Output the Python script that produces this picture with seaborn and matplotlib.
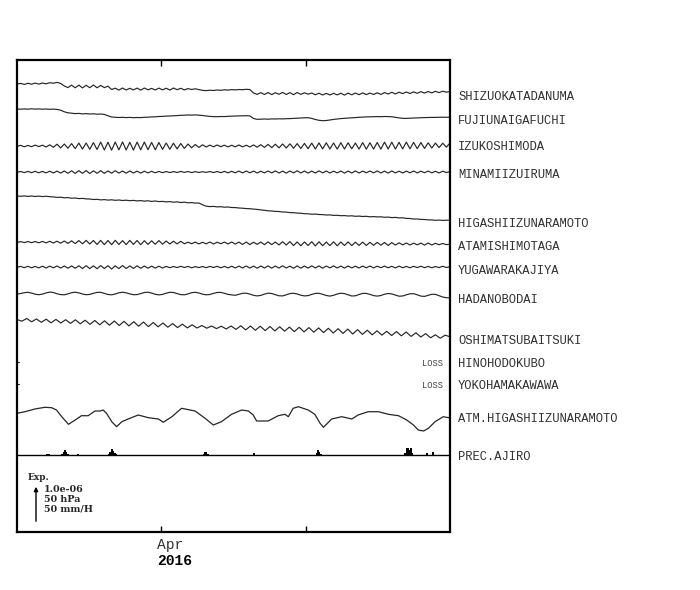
import numpy as np
import matplotlib
matplotlib.use("Agg")
import matplotlib.pyplot as plt
import seaborn as sns

# station names, top to bottom
stations = ["SHIZUOKATADANUMA", "FUJIUNAIGAFUCHI", "IZUKOSHIMODA", "MINAMIIZUIRUMA",
            "HIGASHIIZUNARAMOTO", "ATAMISHIMOTAGA", "YUGAWARAKAJIYA", "HADANOBODAI",
            "OSHIMATSUBAITSUKI", "HINOHODOKUBO", "YOKOHAMAKAWAWA",
            "ATM.HIGASHIIZUNARAMOTO", "PREC.AJIRO"]
loss_stations = ["HINOHODOKUBO", "YOKOHAMAKAWAWA"]

# strain traces, deviation from first level (scale: 37 units = 1.0e-06, downward positive)
shizuoka = [0.0, -0.6, 0.4, -0.7, 0.2, -0.9, 0.1, -1.0, -0.2, -1.3,
            -0.8, -1.6, -0.6,
            2.0, 3.6, 1.2, 3.8, 1.1, 3.9, 1.3, 3.7, 1.0, 3.8, 1.4, 3.6, 2.2,
            5.5, 4.2, 6.1, 4.0, 6.0, 4.3, 5.9, 4.1, 6.2, 4.0, 5.8, 4.4, 6.0, 4.1, 5.9, 4.2, 6.1,
            4.0, 5.7, 4.3, 5.9, 4.6, 5.5, 4.8, 5.6,
            6.4, 6.6, 6.2, 6.5, 6.0, 6.3, 5.8, 6.1, 5.6, 5.9, 5.5, 5.7, 5.3, 5.6,
            9.0, 10.4, 8.6, 10.5, 8.5, 10.6, 8.7, 10.3, 8.4, 10.5, 8.6, 10.7, 8.5, 10.4, 8.8,
            10.2, 9.0, 10.8, 9.2, 11.0, 9.4, 11.0, 9.3, 10.9, 9.2, 11.1, 9.1, 10.8, 9.0, 10.7,
            8.9, 10.6, 9.0, 10.5, 8.8, 10.4,
            8.6, 10.0, 8.3, 9.9, 8.2, 9.6, 8.0, 9.5, 7.9, 9.3, 7.6, 9.1, 7.5, 8.9, 7.3, 8.6,
            7.2, 8.2, 7.4]
fujiunaigafuchi = [0.0, 0.2, -0.1, 0.2, -0.2, 0.1, -0.1, 0.2, 0.0, 0.3, 0.1, 0.4,
                   1.2, 2.8, 3.8,
                   4.2, 4.6, 4.4, 4.9, 4.6, 5.0, 4.8, 5.2, 5.0, 5.4,
                   6.8, 8.0, 8.3,
                   8.5, 8.3, 8.6, 8.4, 8.7, 8.5, 8.6, 8.3, 8.2, 7.9, 7.8, 7.5, 7.4, 7.1, 7.0, 6.8,
                   6.6, 6.3,
                   6.2, 6.0, 6.1, 5.9, 6.2, 6.5, 7.0, 7.4, 7.6,
                   7.7, 7.5, 7.6, 7.3, 7.2, 7.0, 6.9, 6.8, 6.7, 6.9,
                   9.5, 10.3,
                   10.2, 10.0, 10.2, 9.9, 10.0, 9.8, 9.9, 9.7, 9.6, 9.4, 9.2, 9.0, 8.8, 8.7,
                   9.4, 10.5, 11.3, 11.7, 11.5, 11.0, 10.4, 10.0, 9.6, 9.3,
                   9.1, 8.8, 8.6, 8.3, 8.1, 7.9, 7.8, 7.7, 7.6, 7.7, 7.5, 7.6, 7.8, 8.3, 8.9,
                   9.3, 9.4, 9.2, 9.0, 8.9, 8.7, 8.6, 8.5, 8.4, 8.4, 8.3, 8.2, 8.3, 8.2]
izukoshimoda = [0.5, -0.7, 0.8, -0.6, 0.7, -0.9, 0.6, -0.8, 1.0, -1.2, 1.3,
                -1.8, 1.9, -2.0, 2.2, -2.4, 2.6,
                -2.9, 3.1, -3.0, 3.3, -3.4, 3.5,
                -3.9, 4.0, -3.8, 4.2, -4.0, 3.9, -4.1, 4.0, -3.7, 4.1, -3.9, 3.8, -4.0, 3.7,
                -3.6, 3.8, -3.5, 3.4,
                -3.0, 3.2, -2.8, 2.9, -2.5, 2.4, -2.0,
                1.8, -1.5, 1.4, -1.2, 1.0,
                -0.9, 0.8, -1.0, 0.7, -0.8, 0.9, -0.7, 0.8, -1.0, 0.9, -0.8, 1.0, -1.1, 1.2,
                -1.3, 1.4,
                -1.6, 1.7, -1.8, 1.9, -2.0, 2.0, -2.2, 2.3, -2.4, 2.5, -2.6, 2.7,
                -2.9, 3.0, -3.1, 2.9, -3.2, 3.0, -3.0, 3.1, -3.3, 3.0, -3.2, 2.8, -3.0, 3.1,
                -3.4, 3.2, -3.3, 3.1, -3.5, 3.2,
                -3.9, 3.0, -3.8, 3.1, -3.7, 2.9, -3.9, 2.8, -3.6, 2.7, -3.5, 2.4,
                -3.2, 2.0, -2.9, 1.6, -2.8, 1.2, -3.2]
minamiizuiruma = [0.3, -0.5, 0.6, -0.6, 0.7, -0.7, 0.8, -0.6, 0.9, -0.8, 1.0, -0.9, 1.1, -1.0,
                  1.3, -1.2, 1.4, -1.3, 1.3, -1.4, 1.5, -1.2, 1.3, -1.3, 1.4, -1.1, 1.2, -1.3,
                  1.1, -1.0, 1.2, -1.0, 1.0, -0.9, 1.1, -0.8, 0.9, -0.7, 0.8, -0.6, 0.7,
                  -0.5, 0.6, -0.4, 0.5, -0.6, 0.4, -0.5, 0.6, -0.4, 0.5, -0.3, 0.4, -0.5, 0.6,
                  -0.5, 0.7, -0.6, 0.8, -0.7, 0.8,
                  -0.9, 0.9, -1.0, 0.8, -0.9, 1.0, -0.8, 0.9, -1.0, 0.9,
                  -1.1, 1.0, -0.9, 1.1, -1.0, 0.9, -1.2, 1.0, -1.0, 1.1,
                  -0.9, 1.0, -1.1, 0.9, -1.0, 1.0, -0.8, 0.9, -1.0, 1.1,
                  -0.9, 1.0, -1.1, 1.0, -0.9, 0.8, -1.0, 0.9, -1.1, 1.0,
                  -0.9, 1.1, -1.0, 0.9, -0.8, 1.0, -0.9, 0.8, -1.0, 0.9,
                  -0.8, 0.7, -0.9, 0.8, -0.7, 0.9, -0.8, 0.6, -0.5]
higashiizunaramoto = [0.0, 0.3, -0.1, 0.4, 0.0, 0.5, 0.1, 0.6, 0.2, 0.7,
                      0.9, 1.4, 1.2, 1.8, 1.6, 2.2, 2.0, 2.6, 2.4, 2.9,
                      3.0, 3.5, 3.3, 3.9, 3.6, 4.1, 3.8, 4.3, 4.0, 4.5,
                      4.2, 4.7, 4.4, 4.9, 4.6, 5.1, 4.8, 5.4, 5.0, 5.6,
                      5.4, 5.9, 5.6, 6.2, 5.9, 6.5, 6.2, 6.8, 6.6, 7.1,
                      7.0, 8.8, 10.2, 10.6, 10.4, 10.9, 10.7, 11.2, 11.0, 11.5,
                      11.6, 12.0, 12.2, 12.6, 12.7, 13.1, 13.4, 13.9, 14.3, 14.8,
                      15.0, 15.4, 15.5, 16.0, 16.1, 16.6, 16.7, 17.1, 17.2, 17.7,
                      17.8, 18.2, 18.1, 18.5, 18.6, 19.0, 18.9, 19.4, 19.3, 19.7,
                      19.6, 20.0, 19.8, 20.3, 20.1, 20.5, 20.3, 20.8, 20.6, 20.9,
                      20.8, 21.3, 21.1, 21.6, 21.4, 21.9, 21.8, 22.4, 22.5, 23.0,
                      23.0, 23.4, 23.5, 23.9, 23.9, 24.3, 24.1, 24.4, 24.2, 24.3]
atamishimotaga = [0.5, -0.4, 0.6, -0.5, 0.7, -0.5, 0.8, -0.6, 0.9, -0.7, 1.0, -0.8, 1.2,
                  -1.0, 1.4, -1.2, 1.6, -1.4, 1.8, -1.6, 2.0,
                  -1.5, 2.5, -1.6, 2.6, -1.5, 2.7, -1.7, 2.5, -1.4, 2.6, -1.6, 2.4, -1.5, 2.7,
                  -1.3, 2.4, -1.2, 2.3, -1.4, 2.2, -1.0, 2.0, -0.8, 1.9, -0.7,
                  1.8, 0.2, 1.7, 0.1, 1.9, 0.3, 1.8, 0.0, 2.0, 0.2, 1.7, 0.1, 1.9, 0.0, 2.1,
                  0.1, 2.5, 0.0, 2.6, 0.2, 2.4, 0.0, 2.7, -0.1, 2.6, 0.0, 2.9, -0.3, 3.0, -0.4,
                  3.6, -0.1, 3.8, 0.0, 3.5, -0.3, 3.9, -0.2, 3.7, 0.1, 3.6, -0.2, 3.8, 0.0, 3.5,
                  -0.1, 3.6, 0.2, 3.4, 0.1, 3.5, 0.3, 3.3, 0.4, 3.2, 0.5, 3.4, 0.6, 3.1, 0.8,
                  2.9, 1.0, 3.0, 1.2, 2.8, 1.1, 3.1, 1.0, 3.0, 1.3, 2.7, 1.5, 2.6, 2.2]
yugawarakajiya = [0.3, -0.6, 0.7, -0.7, 0.8, -0.6, 0.9, -0.8, 1.0, -0.9, 0.8, -1.0, 1.1, -1.0,
                  1.2, -1.1, 1.3, -1.2,
                  1.5, -1.3, 1.6, -1.2, 1.7, -1.4, 1.5, -1.3, 2.0, -1.2, 1.6, -1.4, 1.5, -1.1,
                  1.4, -1.2, 1.3, -1.0, 1.2, -0.9, 1.1, -0.8, 1.0,
                  -0.6, 0.7, -0.5, 0.6, -0.7, 0.5, -0.6, 0.8, -0.4, 0.6, -0.5, 0.7, -0.6, 0.5,
                  -0.7, 0.8, -0.6, 0.9, -0.8, 1.0,
                  -0.9, 1.0, -1.0, 1.1, -0.9, 1.2, -1.0, 1.0, -1.1, 1.2,
                  -1.0, 1.1, -1.2, 1.0, -0.9, 1.3, -1.1, 1.2, -1.0, 1.1,
                  -1.2, 1.0, -1.1, 1.2, -1.0, 0.9, -1.1, 1.0, -0.9, 1.1,
                  -1.0, 0.9, -0.8, 1.0, -0.9, 0.8, -1.0, 0.9, -0.8, 0.7,
                  -0.9, 0.8, -0.7, 0.9, -0.8, 0.7, -0.6, 0.8, -0.7, 0.6,
                  -0.8, 0.7, -0.6, 0.8, -0.5, 0.6, -0.7, 0.5, -0.3]
hadanobodai = [0.6, 0.0, -0.8, -1.2, -0.4, 0.7, 1.2, 0.6, -0.6, -1.4,
               -1.0, 0.3, 1.1, 1.3, 0.4, -0.8, -1.3, -0.6, 0.5, 1.2,
               0.9, -0.2, -1.1, -1.2, -0.1, 1.0, 1.3, 0.5, -0.7, -1.3,
               -0.7, 0.4, 1.2, 1.1, 0.1, -1.0, -1.3, -0.4, 0.8, 1.4,
               0.9, -0.3, -1.2, -1.0, 0.1, 1.1, 1.3, 0.4, -0.8, -1.2,
               -0.5, 0.7, 1.3, 1.0, -0.1, -1.0, -1.1, -0.2, 0.9, 1.4,
               1.8, 0.8, -0.2, -0.3, 0.6, 1.8, 2.4, 1.9, 0.6, -0.3,
               0.0, 1.2, 2.3, 2.4, 1.3, 0.1, -0.3, 0.5, 1.7, 2.4,
               2.1, 0.9, -0.1, -0.2, 0.8, 2.0, 2.6, 1.8, 0.5, -0.3,
               0.1, 1.3, 2.5, 2.3, 1.0, -0.1, -0.1, 0.9, 2.1, 2.6,
               2.0, 0.7, 0.0, 0.4, 1.6, 2.7, 2.5, 1.3, 0.3, 0.2,
               1.3, 2.6, 2.9, 1.8, 0.8, 0.9, 2.2, 3.5, 4.2, 4.3]
oshimatsubaitsuki = [-0.5, 1.2, -1.5, 1.8, -1.0, 2.3, -0.8, 2.8, -0.6, 3.0,
                     -0.3, 3.4, -0.2, 3.8, 0.2, 4.3, 0.5, 4.8, 0.8, 5.2,
                     1.0, 5.5, 1.3, 5.9, 1.7, 6.2, 2.0, 6.6, 2.5, 6.8,
                     3.0, 7.2, 3.6, 7.6, 4.2, 7.9, 4.8, 8.0, 5.5, 8.2,
                     6.0, 8.6, 6.2, 9.0, 6.0, 9.4, 5.8, 9.9, 6.0, 10.3,
                     6.2, 10.6, 6.5, 10.9, 6.8, 11.2, 7.1, 11.6, 7.3, 11.9,
                     7.6, 12.2, 7.9, 12.6, 8.3, 13.0, 8.7, 13.4, 9.1, 14.0,
                     9.6, 14.4, 10.2, 14.8, 10.8, 15.1, 11.3, 15.5, 11.6, 15.8,
                     12.0, 16.4, 12.8, 17.0, 13.6, 17.8, 14.8, 18.2, 15.2, 16.7]

# atmospheric pressure (scale: 37 units = 50 hPa, downward positive), read at these days
atm_days = [0.0, 1.7, 3.7, 5.8, 7.2, 8.2, 9.3, 10.7, 12.1, 13.4, 14.8, 16.2, 17.3, 17.9,
            18.6, 19.7, 20.7, 21.8, 23.1, 25.2, 27.3, 29.4, 30.4, 32.2, 34.2, 37.0, 39.1,
            40.8, 42.5, 44.6, 46.7, 48.1, 49.1, 49.8, 52.2, 54.3, 55.7, 56.4, 57.4, 58.5,
            60.5, 61.9, 63.0, 63.7, 65.4, 67.5, 69.6, 70.9, 73.0, 75.1, 77.2, 79.3, 81.0,
            82.4, 83.4, 84.5, 85.5, 86.9, 88.6, 89.7, 90.0]
atm_vals = [0.3, -1.3, -4.0, -5.7, -5.3, -3.0, 3.7, 11.3, 7.0, 2.7, 2.7, -2.0, -2.0, -3.0,
            0.3, 8.7, 13.7, 8.7, 6.0, 2.0, 4.7, 6.0, 9.3, 3.7, -4.7, -2.0, 5.3,
            12.0, 8.7, 1.3, -3.0, -2.0, 2.0, 8.0, 8.0, 2.7, 1.3, 3.7, -4.7, -6.3,
            -3.0, 1.3, 10.3, 14.3, 6.0, 3.7, 6.0, 2.0, -1.3, -1.3, 1.3, 2.7, 7.0,
            12.0, 17.0, 18.0, 15.3, 8.7, 3.7, 4.7, 4.0]

# precipitation at Ajiro, mm/H
prec_days = [6.2, 6.6, 9.4, 9.7, 10.0, 10.3, 10.6, 12.7, 19.1, 19.4, 19.7, 20.0, 20.3, 20.6,
             38.8, 39.1, 39.4, 39.7, 49.3, 62.3, 62.6, 62.9, 63.2,
             80.6, 81.0, 81.3, 81.6, 81.9, 82.2, 85.2, 86.4]
prec_mm = [0.7, 1.1, 2.0, 4.7, 6.8, 4.1, 1.4, 0.8, 2.0, 4.7, 8.1, 5.4, 2.7, 1.4,
           2.0, 4.1, 3.4, 1.4, 2.7, 2.7, 6.8, 4.1, 1.4,
           2.7, 8.8, 10.1, 6.8, 9.5, 2.7, 2.7, 4.1]

# layout (rows from top of the frame)
trace_rows = [24, 49, 86, 112, 136, 182, 207, 233.5, 260]
label_rows = [37, 61, 87, 115, 164, 187, 211, 240, 281, 304, 326, 359, 397]
loss_rows = [303, 325]
atm_row = 353
prec_row = 395
px_per_mm = 37 / 50

traces = [shizuoka, fujiunaigafuchi, izukoshimoda, minamiizuiruma, higashiizunaramoto,
          atamishimotaga, yugawarakajiya, hadanobodai, oshimatsubaitsuki]

sns.set_style("white")
fig = plt.figure(figsize=(7, 5.9), dpi=100)
ax = fig.add_axes([17 / 700, 58 / 590, 433 / 700, 472 / 590])

line_col = "#262626"
for vals, row in zip(traces, trace_rows):
    x = np.linspace(0, 90, len(vals))
    sns.lineplot(x=x, y=row + np.array(vals), ax=ax, color=line_col, linewidth=0.85)

sns.lineplot(x=atm_days, y=atm_row + np.array(atm_vals), ax=ax, color=line_col, linewidth=0.9)

ax.plot([0, 90], [prec_row, prec_row], color="black", linewidth=1.0)
ax.bar(prec_days, -np.array(prec_mm) * px_per_mm, bottom=prec_row, width=0.35,
       color="black", linewidth=0)

mono = "Liberation Mono"

# data loss stations
for r in loss_rows:
    ax.plot([0, 0.35], [r - 1.5, r - 1.5], color=line_col, linewidth=0.8)
    ax.plot([89.7, 90], [r, r], color=line_col, linewidth=0.8)
    ax.text(88.6, r, "LOSS", ha="right", va="center", fontsize=6.3,
            family=mono, color="#444444")

for name, r in zip(stations, label_rows):
    ax.text(91.7, r, name, ha="left", va="center", fontsize=8.7, family=mono,
            color="#303030", clip_on=False)

# scale arrow
ax.annotate("", xy=(3.95, 424), xytext=(3.95, 464),
            arrowprops=dict(arrowstyle="-|>", color="black", lw=1.0, mutation_scale=6))
ax.text(2.1, 418, "Exp.", ha="left", va="center", fontsize=6.5, family="DejaVu Serif",
        fontweight="bold")
for r, s in zip([429, 439, 449], ["1.0e-06", "50 hPa", "50 mm/H"]):
    ax.text(5.6, r, s, ha="left", va="center", fontsize=6.8, family="DejaVu Serif",
            fontweight="bold")

ax.set_xlim(0, 90)
ax.set_ylim(472, 0)
ax.set_xticks([30, 60])
ax.set_xticklabels([])
ax.set_yticks([])
ax.tick_params(axis="x", direction="in", length=4, width=1, top=True, bottom=True,
               color="black")
for s in ax.spines.values():
    s.set_visible(True)
    s.set_color("black")
    s.set_linewidth(1.6)

ax.text(29.1, 485, "Apr", ha="left", va="center", fontsize=10.5, family=mono,
        color="#333333", clip_on=False)
ax.text(29.1, 501, "2016", ha="left", va="center", fontsize=10.5, family=mono,
        fontweight="bold", color="black", clip_on=False)

fig.savefig("out.png", dpi=100, facecolor="white")
